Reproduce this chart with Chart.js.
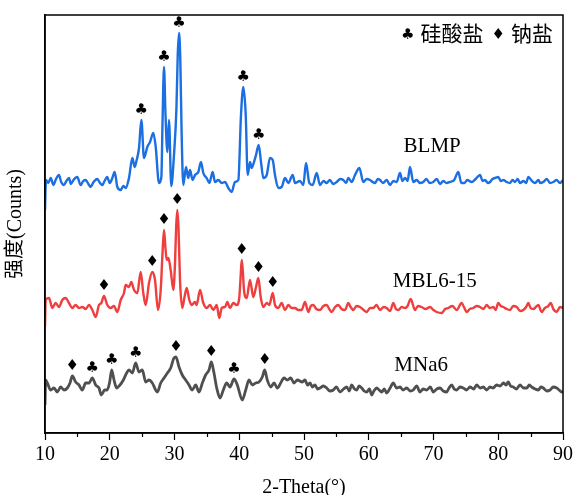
<!DOCTYPE html>
<html>
<head>
<meta charset="utf-8">
<script src="https://cdn.jsdelivr.net/npm/chart.js@4.4.1/dist/chart.umd.min.js"></script>
<style>
  html, body { margin: 0; padding: 0; background: #fff; }
  #wrap { width: 576px; height: 495px; }
</style>
</head>
<body>
<div id="wrap"><canvas id="xrdChart"></canvas></div>
<script>
// 2-Theta positions and plotted (offset) intensities
const blmpTheta = [10.0,10.15,10.5,10.88,11.3,11.7,12.16,12.5,12.93,13.3,13.7,14.0,14.4,14.99,15.5,15.9,16.28,16.7,17.05,17.5,18.08,18.5,18.85,19.2,19.6,20.0,20.4,20.76,21.17,21.69,22.1,22.46,22.97,23.49,23.85,24.16,24.52,24.88,25.29,25.8,26.22,26.73,27.1,27.6,27.97,28.15,28.38,28.6,28.9,29.15,29.5,29.9,30.3,30.5,30.7,30.9,31.1,31.36,31.78,32.13,32.39,32.8,33.17,33.68,34.09,34.45,34.97,35.38,35.9,36.25,36.77,37.29,37.8,38.31,38.83,39.34,39.86,40.27,40.63,41.0,41.3,41.66,41.92,42.28,42.59,43.0,43.36,43.72,44.24,44.75,45.17,45.52,46.03,46.55,47.07,47.58,48.25,48.61,49.38,49.9,50.31,50.82,51.34,51.96,52.47,53.0,53.5,54.0,54.5,55.05,55.6,56.07,56.5,56.85,57.36,57.88,58.55,59.16,59.7,60.19,60.6,60.97,61.4,61.74,62.2,62.77,63.28,63.8,64.31,64.83,65.2,65.6,66.0,66.37,66.88,67.4,67.9,68.43,68.9,69.4,69.97,70.5,71.0,71.51,72.0,72.55,73.2,73.83,74.3,74.8,75.2,75.9,76.5,77.18,77.6,77.95,78.4,78.73,79.1,79.5,80.0,80.4,80.79,81.3,81.82,82.2,82.59,83.0,83.36,83.9,84.3,84.65,85.2,85.68,86.2,86.5,86.96,87.5,88.0,88.5,89.0,89.54,90.0];
const blmpCounts = [223,253,250,255,248,254,258,251,248,252,255,249,253,256,248,252,253,249,246,251,254,250,248,252,256,250,255,261,246,243,247,245,255,275,266,273,285,313,275,286,291,300,286,250,256,310,366,320,281,313,247,276,325,378,400,372,300,248,266,255,263,253,258,261,271,260,255,250,261,251,253,250,251,245,241,251,253,318,346,318,258,271,265,271,278,288,271,255,258,275,273,258,245,246,255,250,258,250,252,248,270,250,248,260,248,252,250,253,249,251,254,253,250,255,251,258,265,251,254,253,251,250,254,253,250,253,248,252,251,260,252,255,252,266,251,253,250,251,254,250,251,254,249,252,250,251,253,261,250,250,253,251,254,258,252,253,250,251,254,255,256,252,253,251,250,253,251,254,250,252,250,256,252,250,253,250,251,254,250,251,253,250,253];

const mblTheta = [10.0,10.1,10.62,11.13,11.65,12.16,12.67,13.19,13.7,14.22,14.73,15.25,15.76,16.28,16.8,17.31,17.83,18.34,18.7,19.11,19.62,20.14,20.66,21.17,21.69,22.2,22.46,22.97,23.33,23.75,24.26,24.78,25.18,25.55,26.06,26.57,26.99,27.45,27.87,28.15,28.38,28.6,28.8,29.05,29.41,29.82,30.08,30.25,30.43,30.62,30.85,31.2,31.55,31.88,32.29,32.65,33.17,33.42,33.94,34.45,34.97,35.48,36.0,36.52,36.92,37.29,37.8,38.16,38.57,39.08,39.6,40.0,40.2,40.38,40.55,40.73,41.15,41.66,42.17,42.59,42.95,43.31,43.72,44.24,44.65,45.17,45.52,46.03,46.55,47.07,47.58,48.1,48.61,49.12,49.64,50.15,50.67,51.05,51.44,51.9,52.47,53.0,53.5,53.9,54.28,54.8,55.3,55.8,56.33,56.85,57.2,57.62,58.1,58.65,59.2,59.68,60.2,60.7,61.2,61.74,62.3,62.77,63.3,63.79,64.2,64.56,65.1,65.6,66.0,66.48,67.14,67.6,68.17,68.8,69.46,70.0,70.49,71.27,71.8,72.29,72.9,73.58,74.35,74.7,75.13,75.6,76.15,76.7,77.18,77.7,78.21,78.7,79.24,79.6,80.0,80.4,80.79,81.3,81.82,82.3,82.85,83.4,83.87,84.3,84.64,85.0,85.42,85.8,86.19,86.7,87.2,87.73,88.1,88.5,89.0,89.54,90.0];
const mblCounts = [106,133,135,125,130,126,133,135,130,125,128,125,126,124,128,123,116,128,130,137,128,125,127,121,133,140,148,146,151,143,140,161,140,128,150,161,153,123,143,180,203,185,173,175,163,143,170,205,223,205,153,125,136,145,133,128,131,128,143,130,125,128,123,128,115,125,126,131,125,130,128,135,155,173,162,143,135,153,136,146,155,136,126,130,128,140,128,125,130,123,128,125,125,123,123,131,121,127,128,124,123,127,128,124,121,126,128,124,123,130,126,123,127,126,123,121,125,125,128,123,126,125,122,130,124,123,126,125,127,134,123,127,126,124,126,123,121,120,124,125,127,123,130,126,121,124,125,127,126,124,128,125,126,123,130,127,126,124,123,127,126,122,123,126,130,125,124,126,128,121,125,127,130,124,121,126,125,128];

const mnaTheta = [10.0,10.1,10.36,10.88,11.39,11.9,12.42,12.93,13.45,13.86,14.22,14.73,15.25,15.76,16.28,16.8,17.31,17.83,18.34,18.7,19.22,19.62,19.99,20.3,20.66,21.07,21.58,22.1,22.61,22.97,23.49,24.0,24.52,25.03,25.55,26.06,26.57,27.35,27.87,28.38,28.9,29.41,29.92,30.23,30.7,31.2,31.73,32.24,32.75,33.27,33.78,34.3,34.81,35.33,35.69,36.1,36.52,37.03,37.54,38.06,38.57,39.19,39.7,40.47,41.0,41.5,42.02,42.54,43.05,43.56,43.93,44.33,44.86,45.37,45.88,46.4,46.91,47.42,47.95,48.46,48.97,49.74,50.15,50.55,50.93,51.3,51.7,52.1,52.47,53.0,53.5,54.0,54.53,55.0,55.56,56.1,56.59,57.0,57.36,57.8,58.14,58.5,58.91,59.3,59.68,60.1,60.46,60.8,61.23,61.6,62.0,62.4,62.77,63.3,63.79,64.3,64.83,65.3,65.86,66.4,66.88,67.4,67.92,68.4,68.95,69.5,69.97,70.5,71.0,71.5,72.04,72.4,72.81,73.2,73.58,74.1,74.6,75.1,75.64,76.2,76.67,77.2,77.7,78.2,78.73,79.2,79.76,80.3,80.79,81.2,81.55,81.9,82.33,82.8,83.36,83.9,84.4,84.8,85.17,85.7,86.19,86.6,86.96,87.5,88.0,88.5,89.03,89.4,89.8,90.0];
const mnaCounts = [28,53,50,43,45,41,46,43,45,50,57,51,48,43,50,50,55,48,45,38,43,43,51,63,53,45,48,53,60,63,60,70,61,63,51,53,50,41,50,55,60,65,75,76,66,58,53,48,43,48,41,50,58,63,71,60,45,35,43,50,46,54,48,33,43,53,48,50,51,56,63,53,46,50,45,50,55,53,55,50,53,51,53,48,50,46,48,44,45,47,45,42,43,46,41,44,46,42,48,44,43,47,45,42,41,44,38,42,45,43,41,44,40,45,50,45,46,43,45,42,43,47,41,44,43,46,41,44,45,42,41,45,48,44,43,46,45,43,46,44,48,45,46,43,46,45,48,47,50,48,51,47,46,44,48,45,45,48,46,44,43,46,45,42,43,46,45,43,41,42];

// marked peaks (2-Theta of the peak in each pattern)
const blmpSilicate = [24.88, 28.38, 30.7, 40.63, 43.0];
const mblSodium = [19.11, 26.57, 28.38, 30.43, 40.38, 42.95, 45.17];
const mnaSodium = [14.22, 30.23, 35.69, 43.93];
const mnaSilicate = [17.31, 20.3, 24.0, 39.19];

const thetaTicks = [10, 20, 30, 40, 50, 60, 70, 80, 90];
const seriesNames = ['BLMP', 'MBL6-15', 'MNa6'];
const seriesColors = ['#1b6fe0', '#ef3e3e', '#4f4f4f'];

const CLUB = '\u2663', DIAMOND = '\u2666';
const serif = '"Liberation Serif", "Noto Sans CJK SC"';

function toPoints(theta, counts) {
    return theta.map((t, i) => ({ x: t, y: counts[i] }));
}
function countAt(theta, counts, t) {
    return counts[theta.indexOf(t)];
}

const markSets = [
    { theta: blmpTheta, counts: blmpCounts, at: blmpSilicate, glyph: CLUB },
    { theta: mblTheta, counts: mblCounts, at: mblSodium, glyph: DIAMOND },
    { theta: mnaTheta, counts: mnaCounts, at: mnaSodium, glyph: DIAMOND },
    { theta: mnaTheta, counts: mnaCounts, at: mnaSilicate, glyph: CLUB }
];
// where the sample names sit, in data units
const nameSpots = [[69.8, 287], [70.2, 152], [68.1, 68]];

const decor = {
    id: 'decor',
    afterDatasetsDraw(chart) {
        const { ctx, chartArea: a, scales: { x, y } } = chart;
        ctx.save();
        ctx.strokeStyle = '#000';
        ctx.lineWidth = 1.5;
        ctx.strokeRect(a.left, a.top, a.right - a.left, a.bottom - a.top);
        // minor ticks
        ctx.lineWidth = 1.2;
        for (let t = 15; t < 90; t += 10) {
            const px = Math.round(x.getPixelForValue(t)) + 0.5;
            ctx.beginPath();
            ctx.moveTo(px, a.bottom);
            ctx.lineTo(px, a.bottom + 4);
            ctx.stroke();
        }
        // peak markers
        ctx.fillStyle = '#000';
        ctx.textAlign = 'center';
        ctx.textBaseline = 'bottom';
        ctx.font = '15px "DejaVu Sans"';
        markSets.forEach(s => {
            s.at.forEach(t => {
                const px = x.getPixelForValue(t);
                const py = y.getPixelForValue(countAt(s.theta, s.counts, t));
                ctx.fillText(s.glyph, px, py - 2);
            });
        });
        // sample names
        ctx.textBaseline = 'middle';
        ctx.font = '21px ' + serif;
        seriesNames.forEach((n, i) => {
            ctx.fillText(n, x.getPixelForValue(nameSpots[i][0]), y.getPixelForValue(nameSpots[i][1]));
        });
        // key
        ctx.textAlign = 'right';
        let rx = a.right - 10;
        const ky = a.top + 20;
        const parts = [['钠盐', '21px ' + serif, 6], [DIAMOND, '15px "DejaVu Sans"', 8], ['硅酸盐', '21px ' + serif, 6], [CLUB, '15px "DejaVu Sans"', 0]];
        parts.forEach(([txt, font, gap]) => {
            ctx.font = font;
            ctx.fillText(txt, rx, ky);
            rx -= ctx.measureText(txt).width + gap;
        });
        ctx.restore();
    }
};

document.addEventListener('DOMContentLoaded', function () {
    const ctx = document.getElementById('xrdChart').getContext('2d');
    const sets = [toPoints(blmpTheta, blmpCounts), toPoints(mblTheta, mblCounts), toPoints(mnaTheta, mnaCounts)];
    new Chart(ctx, {
        type: 'line',
        data: {
            datasets: sets.map((d, i) => ({
                label: seriesNames[i],
                data: d,
                borderColor: seriesColors[i],
                borderWidth: i === 2 ? 2.8 : 2.4,
                pointRadius: 0,
                cubicInterpolationMode: 'monotone',
                fill: false
            }))
        },
        options: {
            responsive: true,
            maintainAspectRatio: false,
            animation: false,
            layout: { padding: { top: 15, right: 13, left: 0, bottom: 0 } },
            plugins: { legend: { display: false }, tooltip: { enabled: false } },
            scales: {
                x: {
                    type: 'linear',
                    min: 10,
                    max: 90,
                    afterBuildTicks: s => { s.ticks = thetaTicks.map(v => ({ value: v })); },
                    afterFit: s => { s.height = 62; },
                    grid: { display: true, drawOnChartArea: false, tickLength: 7, tickWidth: 1.2, tickColor: '#000' },
                    border: { display: true, color: '#000', width: 1.5 },
                    ticks: { color: '#000', padding: 3, maxRotation: 0, font: { family: serif, size: 20 } },
                    title: { display: true, text: '2-Theta(°)', color: '#000', padding: { top: 0, bottom: -5 }, font: { family: serif, size: 20 } }
                },
                y: {
                    min: 0,
                    max: 418,
                    afterFit: s => { s.width = 45; },
                    grid: { display: false },
                    border: { display: true, color: '#000', width: 1.5 },
                    ticks: { display: false },
                    title: { display: true, text: '强度(Counts)', color: '#000', padding: 4, font: { family: serif, size: 20 } }
                }
            }
        },
        plugins: [decor]
    });
});
</script>
</body>
</html>
